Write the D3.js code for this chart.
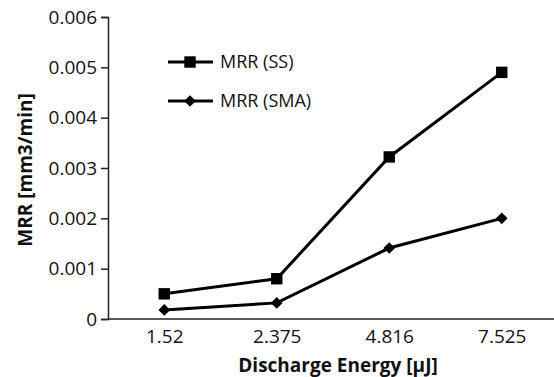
<!DOCTYPE html>
<html>
<head>
<meta charset="utf-8">
<script src="https://cdn.jsdelivr.net/npm/d3@7"></script>
<style>
  body { margin: 0; background: white; }
  text { font-family: "Open Sans", sans-serif; fill: #111; }
</style>
</head>
<body>
<div id="chart"></div>
<script>
const categories = ["1.52", "2.375", "4.816", "7.525"];
const mrrSS = [0.0005, 0.0008, 0.00322, 0.0049];
const mrrSMA = [0.00018, 0.00032, 0.00141, 0.002];
const yTicks = [0, 0.001, 0.002, 0.003, 0.004, 0.005, 0.006];

const width = 554;
const height = 377;
const margin = {top: 17, right: -4, bottom: 58, left: 108};

const svg = d3.select("#chart")
    .append("svg")
    .attr("width", width)
    .attr("height", height);

const x = d3.scalePoint()
    .domain(categories)
    .range([margin.left, width - margin.right])
    .padding(0.5);

const y = d3.scaleLinear()
    .domain([0, 0.006])
    .range([height - margin.bottom, margin.top]);

// y axis
const yAxis = svg.append("g")
    .attr("transform", `translate(${margin.left},0)`)
    .call(d3.axisLeft(y).tickValues(yTicks).tickSize(7).tickPadding(4)
        .tickFormat(d => d === 0 ? "0" : d3.format(".3f")(d)));
yAxis.select(".domain").attr("stroke", "#222").attr("stroke-width", 1.5);
yAxis.selectAll(".tick line").attr("stroke", "#222").attr("stroke-width", 1.5);
yAxis.selectAll("text").attr("font-size", 19).attr("font-family", "Open Sans").attr("fill", "#111");

// x axis
const xAxis = svg.append("g")
    .attr("transform", `translate(0,${y(0)})`)
    .call(d3.axisBottom(x).tickSize(0).tickPadding(11));
xAxis.select(".domain").attr("stroke", "#222").attr("stroke-width", 1.5)
    .attr("d", `M${margin.left},0H${width}`);
xAxis.selectAll("text").attr("font-size", 19).attr("font-family", "Open Sans").attr("fill", "#111");

// axis titles
svg.append("text")
    .attr("x", 338)
    .attr("y", 372)
    .attr("text-anchor", "middle")
    .attr("font-size", 19)
    .attr("font-weight", "bold")
    .text("Discharge Energy [μJ]");

svg.append("text")
    .attr("transform", `translate(32,${(y(0) + y(0.006)) / 2 + 2}) rotate(-90)`)
    .attr("text-anchor", "middle")
    .attr("font-size", 19)
    .attr("font-weight", "bold")
    .text("MRR [mm3/min]");

const line = d3.line()
    .x((d, i) => x(categories[i]))
    .y(d => y(d));

const square = d3.symbol().type(d3.symbolSquare).size(130);
const diamond = d3.symbol().type(d3.symbolSquare).size(68);

const series = [
  {name: "MRR (SS)", values: mrrSS, symbol: square, rot: 0},
  {name: "MRR (SMA)", values: mrrSMA, symbol: diamond, rot: 45}
];

series.forEach(s => {
  svg.append("path")
      .datum(s.values)
      .attr("fill", "none")
      .attr("stroke", "#000")
      .attr("stroke-width", 3)
      .attr("d", line);

  svg.selectAll(null)
      .data(s.values)
      .enter()
      .append("path")
      .attr("transform", (d, i) => `translate(${x(categories[i])},${y(d)}) rotate(${s.rot})`)
      .attr("fill", "#000")
      .attr("d", s.symbol);
});

// legend
const legend = svg.append("g")
    .selectAll("g")
    .data(series)
    .enter()
    .append("g")
    .attr("transform", (d, i) => `translate(168,${62 + i * 39})`);

legend.append("line")
    .attr("x1", 0)
    .attr("x2", 45)
    .attr("stroke", "#000")
    .attr("stroke-width", 3);

legend.append("path")
    .attr("transform", d => `translate(22,0) rotate(${d.rot})`)
    .attr("d", d => d.symbol());

legend.append("text")
    .attr("x", 52)
    .attr("dy", "0.35em")
    .attr("font-size", 18)
    .text(d => d.name);
</script>
</body>
</html>
